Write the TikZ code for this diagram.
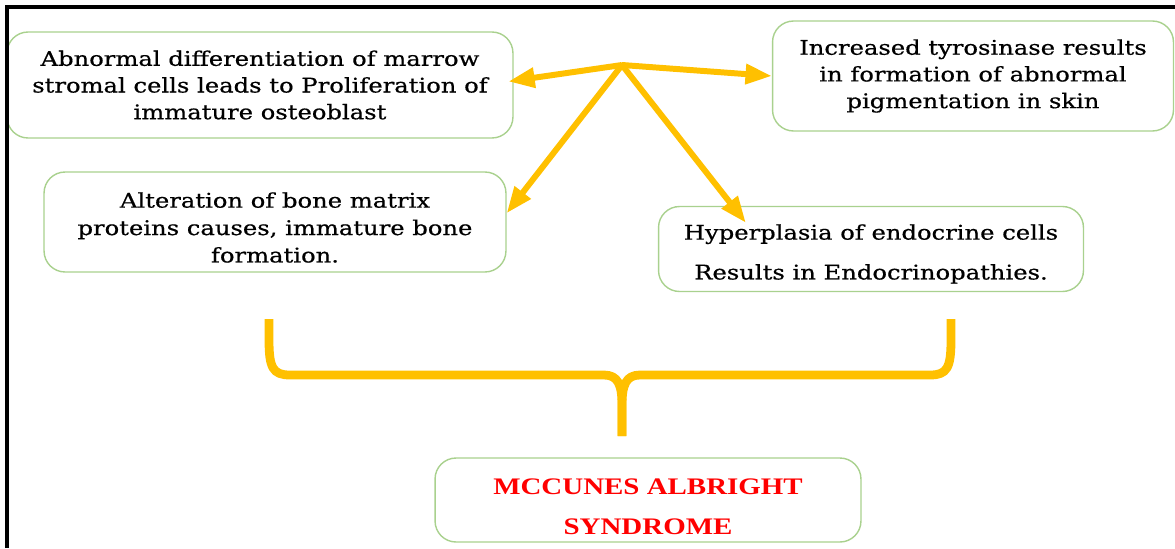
\documentclass[tikz,border=0pt]{standalone}
\usepackage{fontspec}
\setmainfont{DejaVu Serif}[FakeStretch=1.2, FakeBold=0.6]
\newfontfamily\titlefont{Liberation Serif}[FakeStretch=1.22]
\usetikzlibrary{arrows.meta,positioning}

\definecolor{arrowgold}{HTML}{FFC000}
\definecolor{boxgreen}{HTML}{A9D18E}

\begin{document}
\begin{tikzpicture}[x=0.02cm, y=-0.02cm,
    infobox/.style={draw=boxgreen, line width=0.8pt, rounded corners=0.42cm, align=center, inner sep=0pt, font=\fontsize{11.5}{15.2}\selectfont},
    goldarrow/.style={arrowgold, line width=3.4pt, -{Triangle[length=15pt, width=11pt]}},
    brace/.style={arrowgold, line width=5pt, line join=round}
]
    % Fix the canvas
    \useasboundingbox (0,0) rectangle (1175,548);

    % Draw boxes
    \node[infobox, minimum width=10.12cm, minimum height=2.12cm] (marrow) at (260,85) {Abnormal differentiation of marrow\\stromal cells leads to Proliferation of\\immature osteoblast};
    \node[infobox, minimum width=9.24cm, minimum height=2cm, font=\fontsize{11.5}{15.6}\selectfont] (bone) at (275,222) {\rule{0pt}{15pt}Alteration of bone matrix\\proteins causes, immature bone\\formation.};
    \node[infobox, minimum width=8.02cm, minimum height=2.2cm] (pigment) at (973,76) {Increased tyrosinase results\\in formation of abnormal\\pigmentation in skin};
    \node[infobox, minimum width=8.5cm, minimum height=1.7cm, font=\fontsize{11.5}{22.7}\selectfont] (endocrine) at (871,249) {\rule{0pt}{14.4pt}Hyperplasia of endocrine cells\\Results in Endocrinopathies.};
    \node[infobox, minimum width=8.52cm, minimum height=1.68cm, text=red, font=\titlefont\bfseries\fontsize{13.5}{23}\selectfont] (syndrome) at (648,500) {\rule{0pt}{16.3pt}MCCUNES ALBRIGHT\\SYNDROME};

    % Arrows from the hub
    \coordinate (hub) at (622,65);
    \draw[goldarrow] (hub) -- ([xshift=-3pt, yshift=2pt]marrow.east);
    \draw[goldarrow] (hub) -- (pigment.west);
    \draw[goldarrow] (hub) -- ([yshift=5pt]bone.east);
    \draw[goldarrow] (hub) -- ([shift={(88,17)}]endocrine.north west);

    % Brace gathering both rows
    \coordinate (stem) at (622,436);
    \draw[brace] (269,319) -- (269,340) .. controls (269,368) and (273,375) .. (290,375) -- (604,375) .. controls (618,375) and (622,385) .. (622,405) -- (stem);
    \draw[brace] (951,319) -- (951,340) .. controls (951,368) and (947,375) .. (930,375) -- (640,375) .. controls (626,375) and (622,385) .. (622,405) -- (stem);

    % Draw frame
    \draw[line width=2.3pt] (7,548) -- (7,7) -- (1175,7);
\end{tikzpicture}
\end{document}
